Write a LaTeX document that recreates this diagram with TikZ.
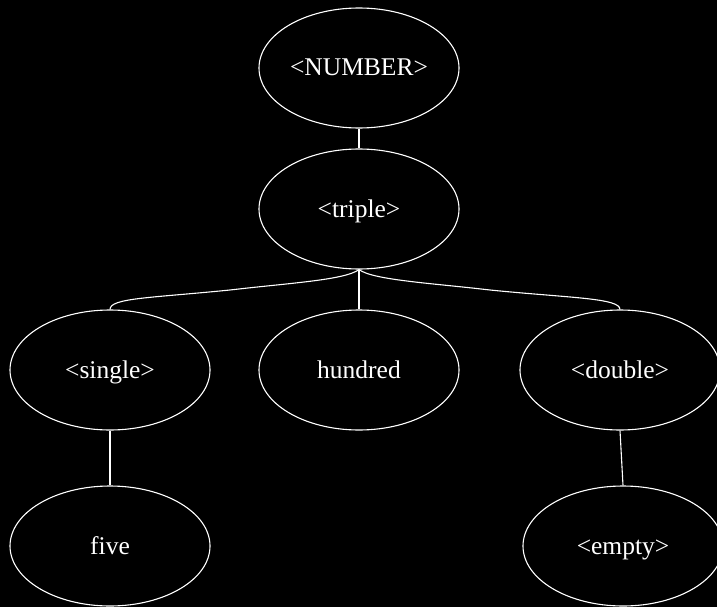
\documentclass[tikz,border=0pt]{standalone}
\usepackage{fontspec}
\setmainfont{Liberation Serif}
\usetikzlibrary{shapes.geometric}
\begin{document}
\begin{tikzpicture}[x=1pt,y=-1pt,
  tnode/.style={ellipse,draw=white,line width=1.1pt,minimum width=200pt,minimum height=120pt,inner sep=0pt,
    text=white,font=\fontsize{25.5}{28}\selectfont,text height=16.5pt,text depth=0.5pt},
  tedge/.style={draw=white,line width=1.1pt}]
  \fill[black] (0,0) rectangle (717,607);
  \useasboundingbox (0,0) rectangle (717,607);
  \node[tnode] (num) at (359,68) {<NUMBER>};
  \node[tnode] (tri) at (359,209) {<triple>};
  \node[tnode] (sgl) at (110,370) {<single>};
  \node[tnode] (hun) at (359,370) {hundred};
  \node[tnode] (dbl) at (620,370) {<double>};
  \node[tnode] (fiv) at (110,546) {five};
  \node[tnode] (emp) at (623,546) {<empty>};
  \draw[tedge] (num.south) -- (tri.north);
  \draw[tedge] (tri.south) .. controls (345,280) and (290,283) .. (230,290)
    .. controls (150,298) and (110,298) .. (sgl.north);
  \draw[tedge] (tri.south) -- (hun.north);
  \draw[tedge] (tri.south) .. controls (373,280) and (430,283) .. (490,290)
    .. controls (570,298) and (620,298) .. (dbl.north);
  \draw[tedge] (sgl.south) -- (fiv.north);
  \draw[tedge] (dbl.south) -- (emp.north);
\end{tikzpicture}
\end{document}
